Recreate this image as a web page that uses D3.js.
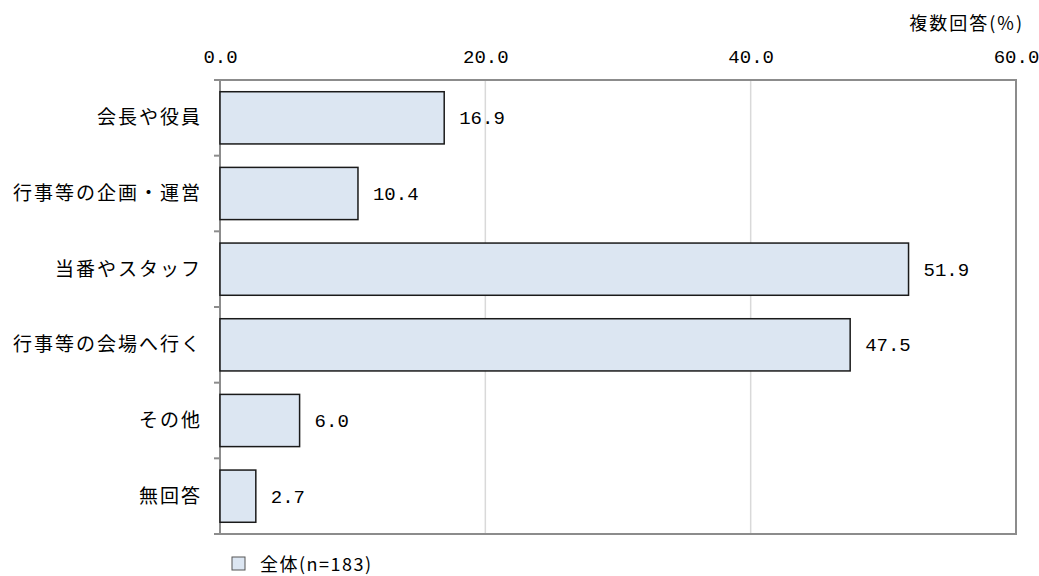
<!DOCTYPE html>
<html><head><meta charset="utf-8">
<script src="https://cdn.jsdelivr.net/npm/d3@7"></script>
<style>body{margin:0;background:#fff}svg{display:block}</style>
</head><body>
<script>
const categories = ["会長や役員","行事等の企画・運営","当番やスタッフ","行事等の会場へ行く","その他","無回答"];
const values = [16.9, 10.4, 51.9, 47.5, 6.0, 2.7];
const tickValues = [0, 20, 40, 60];
const seriesName = "全体(n=183)";
const unitLabel = "複数回答(%)";

const W = 1039, H = 576;
const m = {left:220, right:1016, top:80, bottom:534};
const jp = "'Noto Sans CJK JP', sans-serif";
const mono = "'Liberation Mono', monospace";

const svg = d3.select("body").append("svg").attr("width", W).attr("height", H);
const x = d3.scaleLinear().domain([0,60]).range([m.left, m.right]);
const y = d3.scaleBand().domain(categories).range([m.top, m.bottom]).paddingInner(0.31).paddingOuter(0.155);

// gridlines
svg.append("g").selectAll("line").data(tickValues.filter(t=>t>0&&t<60)).join("line")
  .attr("x1", d=>x(d)).attr("x2", d=>x(d)).attr("y1", m.top).attr("y2", m.bottom)
  .attr("stroke", "#d9d9d9").attr("stroke-width", 1.5);

// right border
svg.append("line").attr("x1", m.right).attr("x2", m.right).attr("y1", m.top).attr("y2", m.bottom)
  .attr("stroke", "#8c8c8c").attr("stroke-width", 2);
// bottom border
svg.append("line").attr("x1", m.left-6).attr("x2", m.right+1).attr("y1", m.bottom).attr("y2", m.bottom)
  .attr("stroke", "#8c8c8c").attr("stroke-width", 2);

// top axis
const xAxis = d3.axisTop(x).tickValues(tickValues).tickSize(0).tickPadding(17).tickFormat(d3.format(".1f"));
const gx = svg.append("g").attr("transform", `translate(0,${m.top})`).call(xAxis);
gx.select(".domain").remove();
gx.selectAll("text").attr("font-family", mono).attr("font-size", 19).attr("fill", "#000");
svg.append("line").attr("x1", m.left-6).attr("x2", m.right+1).attr("y1", m.top).attr("y2", m.top)
  .attr("stroke", "#8c8c8c").attr("stroke-width", 2);

// left axis with ticks at band boundaries
svg.append("line").attr("x1", m.left).attr("x2", m.left).attr("y1", m.top).attr("y2", m.bottom)
  .attr("stroke", "#8c8c8c").attr("stroke-width", 2);
const bounds = d3.range(categories.length+1).map(i => m.top + i*(m.bottom-m.top)/categories.length);
svg.append("g").selectAll("line").data(bounds).join("line")
  .attr("x1", m.left-6).attr("x2", m.left).attr("y1", d=>d).attr("y2", d=>d)
  .attr("stroke", "#8c8c8c").attr("stroke-width", 2);

// category labels
svg.append("g").selectAll("text").data(categories).join("text")
  .attr("x", 202).attr("y", d=>y(d)+y.bandwidth()/2).attr("dy", "0.35em")
  .attr("text-anchor", "end").attr("font-family", jp).attr("font-size", 19)
  .attr("letter-spacing", 2).text(d=>d);

// bars
svg.append("g").selectAll("rect").data(values).join("rect")
  .attr("x", x(0)).attr("y", (d,i)=>y(categories[i]))
  .attr("width", d=>x(d)-x(0)).attr("height", y.bandwidth())
  .attr("fill", "#dce6f2").attr("stroke", "#1a1a1a").attr("stroke-width", 1.5);

// value labels
svg.append("g").selectAll("text").data(values).join("text")
  .attr("x", d=>x(d)+15).attr("y", (d,i)=>y(categories[i])+y.bandwidth()/2).attr("dy", "0.35em")
  .attr("font-family", mono).attr("font-size", 19).text(d=>d3.format(".1f")(d));

// unit label
svg.append("text").attr("x", 1024).attr("y", 30).attr("text-anchor", "end")
  .attr("font-family", jp).attr("font-size", 18).attr("letter-spacing", 2).text(unitLabel);

// legend
svg.append("rect").attr("x", 232).attr("y", 557).attr("width", 13).attr("height", 13)
  .attr("fill", "#dce6f2").attr("stroke", "#555").attr("stroke-width", 1);
svg.append("text").attr("x", 260).attr("y", 571).attr("font-family", jp).attr("font-size", 18)
  .attr("letter-spacing", 1.5).text(seriesName);
</script>
</body></html>
